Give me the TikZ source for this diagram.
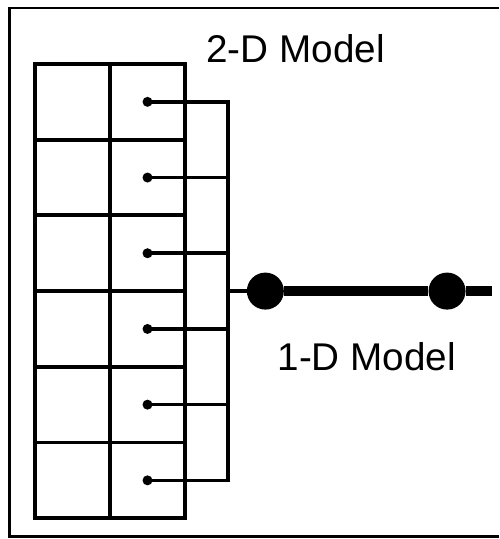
\documentclass[tikz,border=0pt]{standalone}
\usepackage{fontspec}
\setmainfont{Liberation Sans}
\usetikzlibrary{positioning, calc}
\def\cellWidth{1.5}
\def\cellHeight{1.514}
\def\labelFont{\fontsize{22}{26}\selectfont}
\tikzset{% grid and model styles
  cell/.style  = {draw, rectangle, line width=2.2pt, minimum width=\cellWidth cm,
    minimum height=\cellHeight cm, inner sep=0, outer sep=0},
  tap/.style   = {fill, circle, inner sep=0, minimum size=0.2cm},
  joint/.style = {fill, circle, inner sep=0, minimum size=0.74cm},
  wire/.style  = {line width=2pt, line join=miter},
  beam/.style  = {line width=5.5pt},
  modelname/.style = {font=\labelFont, inner sep=0},
}
\begin{document}
\begin{tikzpicture}
  \useasboundingbox (0,0) rectangle (9.98,10.78);

  % outer frame, open on the right
  \draw[line width=1.4pt] (9.98,10.62) -- (0.19,10.62) -- (0.19,0.05) -- (9.98,0.05);

  % 2-D grid
  \node[cell] (L1) at (1.45,8.743) {};
  \node[cell, right=0cm of L1] (R1) {};
  \foreach \r [remember=\r as \p (initially 1)] in {2,...,6} {
    \node[cell, below=0cm of L\p] (L\r) {};
    \node[cell, right=0cm of L\r] (R\r) {};
  }
  \node[modelname, anchor=base west, xshift=0.42cm, yshift=0.03cm] (TwoD) at (R1.north east) {2-D Model};

  % taps into the bus
  \foreach \r in {1,...,6}
    \node[tap] (T\r) at (R\r.center) {};
  \coordinate (bus) at (4.56,0);
  \draw[wire] (T1.center) -- (T1 -| bus) -- (T6 -| bus) -- (T6.center);
  \foreach \r in {2,...,5}
    \draw[wire] (T\r.center) -- (T\r -| bus);

  % 1-D model
  \coordinate (busJ) at (R3.south -| bus);
  \node[joint, right=0.37cm of busJ] (J1) {};
  \node[joint, right=2.88cm of J1] (J2) {};
  \coordinate[right=0.52cm of J2] (beamEnd);
  \draw[wire] (busJ) -- (J1);
  \draw[beam] (J1) -- (J2);
  \draw[beam] (J2) -- (beamEnd);
  \node[modelname, anchor=base] (OneD) at ([xshift=0.21cm, yshift=-1.58cm]$(J1)!0.5!(J2)$) {1-D Model};
\end{tikzpicture}
\end{document}
